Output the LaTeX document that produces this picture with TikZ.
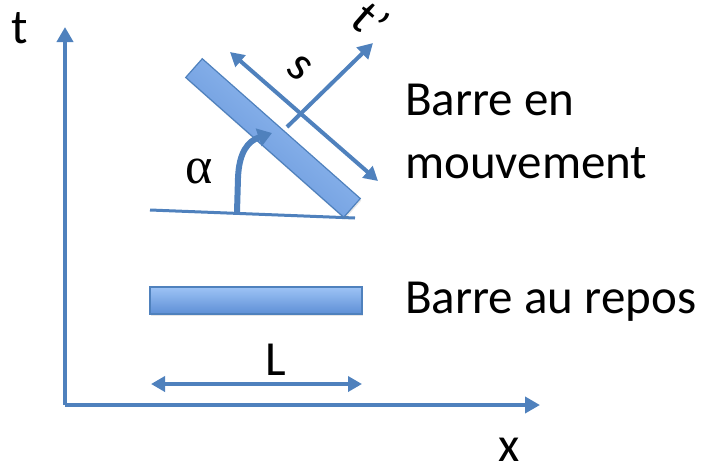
\documentclass[tikz,border=0pt]{standalone}
\usepackage{fontspec}
\setmainfont{Carlito}
\newfontfamily\greekfont{Liberation Serif}
\usetikzlibrary{arrows.meta,shadows}
\definecolor{lineblue}{HTML}{4F81BD}
\definecolor{bartop}{HTML}{9DC3F5}
\definecolor{barbot}{HTML}{5E8FD6}
\begin{document}
\begin{tikzpicture}[x=1pt,y=-1pt,
  conn/.style={draw=lineblue,line width=4pt},
  bigtip/.style={-{Triangle[width=16pt,length=15pt]}},
  dbltip/.style={{Triangle[width=15pt,length=14pt]}-{Triangle[width=15pt,length=14pt]}},
  bar/.style={draw=lineblue,line width=1.2pt,rectangle,inner sep=0pt,
    top color=bartop,bottom color=barbot,
    drop shadow={opacity=0.2,shadow xshift=1pt,shadow yshift=-2pt}},
  lbl/.style={inner sep=0pt,font=\fontsize{49}{59}\selectfont},
  txt/.style={inner sep=0pt,anchor=base west,font=\fontsize{49}{59}\selectfont}]
\useasboundingbox (0,0) rectangle (706,466);
% axes
\coordinate (O) at (65,405);
\coordinate (T) at (65,27);
\coordinate (X) at (540,405);
\draw[conn,bigtip] (O) -- (T);
\draw[conn,bigtip] (O) -- (X);
\node[lbl,anchor=base] (tl) at (20,43) {t};
\node[lbl,anchor=base] (xl) at (509,461) {x};
% resting bar
\node[bar,minimum width=212pt,minimum height=27pt] (rest) at (256,300.5) {};
\coordinate (La) at (151,384);
\coordinate (Lb) at (362,384);
\draw[conn,dbltip] (La) -- (Lb);
\node[lbl,anchor=base] (Ll) at (276,375) {L};
% baseline under moving bar
\coordinate (B1) at (150,210);
\coordinate (B2) at (355,218);
\draw[draw=lineblue,line width=3pt] (B1) -- (B2);
% moving bar
\node[bar,shading angle=-41.5,minimum width=211pt,minimum height=25pt,rotate=-41.5] (moving) at (273,138) {};
% alpha arrow
\coordinate (A0) at (237,212);
\coordinate (A1) at (272,133);
\draw[draw=lineblue,line width=6pt,-{Triangle[width=18pt,length=14pt]}] (A0) -- (238,178) .. controls (239,152) and (248,141) .. (A1);
\node[inner sep=0pt,anchor=base,font=\fontsize{52}{60}\greekfont] (al) at (199,183) {α};
% s axis and t' axis
\coordinate (S1) at (230,52);
\coordinate (S2) at (378,181);
\draw[conn,dbltip] (S1) -- (S2);
\coordinate (P0) at (287,127);
\coordinate (P1) at (373,43);
\draw[conn,bigtip] (P0) -- (P1);
\node[lbl,rotate=-41] (sl) at (299,68) {s};
\node[lbl,rotate=-41] (tpl) at (371,21) {t'};
% texts
\node[txt] (mv1) at (405,115) {Barre en};
\node[txt] (mv2) at (405,178) {mouvement};
\node[txt] (rp) at (405,313) {Barre au repos};
\end{tikzpicture}
\end{document}
